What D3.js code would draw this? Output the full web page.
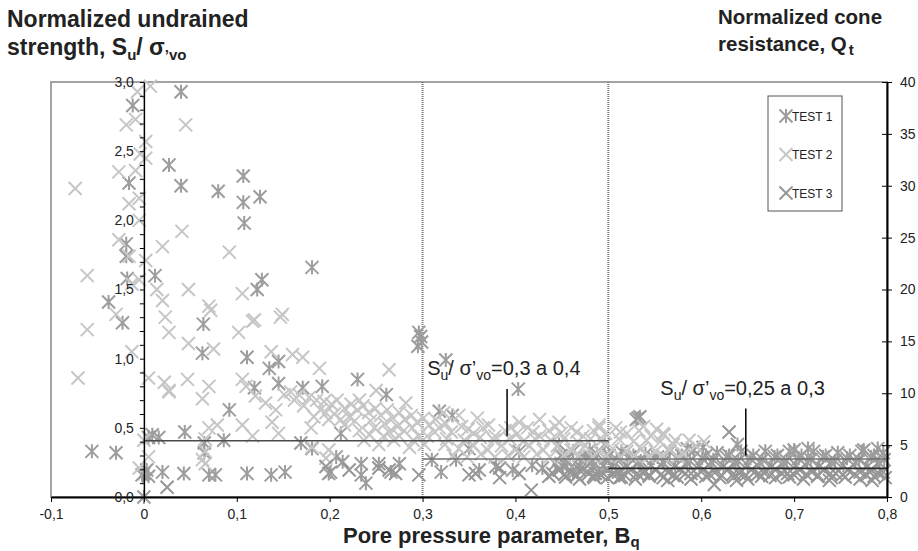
<!DOCTYPE html>
<html>
<head>
<meta charset="utf-8">
<script src="https://cdn.jsdelivr.net/npm/d3@7"></script>
<style>
    body { margin: 0; background: #fff; }
    svg text { font-family: Arial, "Liberation Sans", sans-serif; fill: #222; }
</style>
</head>
<body>
<svg id="chart" width="918" height="551"></svg>
<script>
// Tick labels for the three axes
const bqTicks = [-0.1, 0, 0.1, 0.2, 0.3, 0.4, 0.5, 0.6, 0.7, 0.8];
const suTicks = [0, 0.5, 1.0, 1.5, 2.0, 2.5, 3.0];
const qtTicks = [0, 5, 10, 15, 20, 25, 30, 35, 40];

const seriesNames = ["TEST 1", "TEST 2", "TEST 3"];

// [Bq, Su/σ'vo]
const test1 = [
    [0.040, 2.93], [-0.012, 2.83], [0.027, 2.40], [-0.016, 2.27], [0.040, 2.25], [0.080, 2.21],
    [0.107, 2.32], [0.107, 2.13], [0.125, 2.17], [0.108, 1.98], [-0.019, 1.83], [-0.019, 1.74],
    [0.012, 1.60], [-0.018, 1.58], [0.181, 1.66], [0.127, 1.57], [0.122, 1.50], [-0.038, 1.41],
    [-0.023, 1.26], [0.064, 1.25], [0.063, 1.04], [0.111, 1.01], [0.135, 0.93], [0.145, 0.98],
    [0.145, 0.82], [0.119, 0.79], [0.092, 0.63], [0.044, 0.47], [0.009, 0.45], [0.016, 0.43],
    [0.005, 0.43], [-0.030, 0.32], [-0.056, 0.33], [0.086, 0.41], [0.065, 0.39], [0.065, 0.32],
    [0, 0.17], [0.003, 0.195], [-0.002, 0.16], [0.005, 0.15], [0.020, 0.18], [0.043, 0.17],
    [0.070, 0.16], [0.077, 0.16], [0.111, 0.17], [0.137, 0.16], [0.152, 0.18], [0, 0.0],
    [0.171, 0.79], [0.192, 0.80], [0.181, 0.35], [0.169, 0.39], [0.199, 0.17], [0.212, 0.46],
    [0.230, 0.85], [0.261, 0.74], [0.207, 0.29], [0.214, 0.255], [0.234, 0.24], [0.253, 0.24],
    [0.275, 0.24], [0.201, 0.18], [0.234, 0.16], [0.239, 0.10], [0.266, 0.18],
    [0.296, 1.19], [0.298, 1.16], [0.299, 1.12], [0.295, 1.09], [0.325, 0.99], [0.403, 0.78],
    [0.318, 0.62], [0.332, 0.59],
    [0.310, 0.27], [0.320, 0.18], [0.336, 0.27], [0.361, 0.195], [0.379, 0.22], [0.397, 0.195],
    [0.418, 0.23], [0.429, 0.21], [0.451, 0.22], [0.462, 0.17], [0.483, 0.22], [0.490, 0.17],
    [0.504, 0.22], [0.350, 0.35], [0.404, 0.33], [0.447, 0.38], [0.480, 0.34], [0.496, 0.38],
    [0.532, 0.57], [0.534, 0.58], [0.530, 0.56], [0.639, 0.38],
    // dense band 0.45 - 0.8
    [0.449, 0.30], [0.462, 0.33], [0.475, 0.28], [0.488, 0.31], [0.501, 0.30], [0.514, 0.33],
    [0.527, 0.30], [0.540, 0.31], [0.553, 0.29], [0.566, 0.33], [0.579, 0.30], [0.592, 0.34],
    [0.605, 0.30], [0.617, 0.32], [0.630, 0.30], [0.643, 0.33], [0.656, 0.30], [0.669, 0.33],
    [0.682, 0.30], [0.695, 0.33], [0.708, 0.30], [0.721, 0.33], [0.734, 0.30], [0.747, 0.32],
    [0.760, 0.30], [0.773, 0.33], [0.786, 0.30], [0.796, 0.32],
    [0.455, 0.27], [0.470, 0.29], [0.483, 0.26], [0.497, 0.28], [0.509, 0.27], [0.523, 0.29],
    [0.535, 0.26], [0.549, 0.28], [0.561, 0.27], [0.575, 0.29], [0.588, 0.26], [0.601, 0.28],
    [0.613, 0.27], [0.627, 0.29], [0.640, 0.26], [0.653, 0.28], [0.666, 0.27], [0.679, 0.29],
    [0.692, 0.26], [0.705, 0.28], [0.718, 0.27], [0.731, 0.29], [0.744, 0.26], [0.757, 0.28],
    [0.770, 0.27], [0.783, 0.29], [0.797, 0.27],
    [0.443, 0.24], [0.456, 0.25], [0.469, 0.22], [0.482, 0.25], [0.495, 0.23], [0.508, 0.245],
    [0.520, 0.22], [0.533, 0.25], [0.546, 0.23], [0.559, 0.25], [0.572, 0.22], [0.585, 0.245],
    [0.598, 0.23], [0.611, 0.25], [0.624, 0.22], [0.637, 0.245], [0.650, 0.23], [0.663, 0.25],
    [0.676, 0.22], [0.689, 0.245], [0.702, 0.23], [0.714, 0.25], [0.727, 0.22], [0.740, 0.245],
    [0.753, 0.23], [0.766, 0.25], [0.779, 0.22], [0.792, 0.245],
    [0.585, 0.35], [0.602, 0.36], [0.700, 0.34], [0.715, 0.35], [0.775, 0.34], [0.790, 0.35]
];

const test2 = [
    [0.007, 2.97], [-0.007, 2.93], [0.045, 2.69], [-0.019, 2.69], [-0.009, 2.73], [0.002, 2.57],
    [-0.004, 2.48], [0.002, 2.45], [-0.027, 2.35], [-0.009, 2.36], [-0.074, 2.23], [-0.016, 2.12],
    [-0.005, 2.16], [-0.005, 2.00], [0.041, 1.92], [-0.027, 1.86], [0.020, 1.81], [-0.016, 1.74],
    [0.002, 1.71], [0.092, 1.77], [-0.061, 1.60], [-0.005, 1.57], [-0.013, 1.54], [0.014, 1.50],
    [0.048, 1.50], [0.106, 1.47], [0.020, 1.42], [0.070, 1.38], [0.072, 1.35], [0.149, 1.32],
    [0.119, 1.28], [0.023, 1.30], [-0.030, 1.32], [0.027, 1.19], [0.048, 1.11], [0.075, 1.07],
    [0.102, 1.19], [0.117, 1.27], [0.147, 1.30], [-0.013, 1.05], [-0.061, 1.21], [-0.071, 0.86],
    [0.005, 0.86], [0.022, 0.83], [0.027, 0.76], [0.047, 0.85], [0.070, 0.80], [0.063, 0.71],
    [0.106, 0.85], [0.110, 0.80], [0.120, 0.73], [0.131, 0.68], [0.142, 0.63], [0.151, 0.74],
    [0.160, 1.03], [0.137, 1.05], [0.070, 0.50], [0.079, 0.52], [0.106, 0.52], [0.117, 0.44],
    [0.138, 0.54], [0.145, 0.46], [0.066, 0.42], [0.066, 0.24], [0.171, 1.01], [0.189, 0.93],
    [0.264, 0.92], [0.158, 0.76], [0.162, 0.70], [0.250, 0.77], [0.232, 0.70], [0.282, 0.68],
    [0.180, 0.50], [0.181, 0.36], [0.196, 0.28], [0.199, 0.34], [0, 0.41], [0.005, 0.29],
    [-0.005, 0.21], [0.063, 0.27], [0.066, 0.33], [0.027, 0.77],
    // band 0.17 - 0.31
    [0.167, 0.74], [0.178, 0.72], [0.186, 0.70], [0.194, 0.69], [0.202, 0.67], [0.208, 0.70],
    [0.216, 0.64], [0.223, 0.67], [0.230, 0.63], [0.236, 0.66], [0.242, 0.61], [0.249, 0.64],
    [0.255, 0.59], [0.262, 0.63], [0.268, 0.57], [0.275, 0.61], [0.281, 0.56], [0.288, 0.59],
    [0.294, 0.54], [0.301, 0.57], [0.307, 0.52], [0.314, 0.56],
    [0.199, 0.56], [0.216, 0.52], [0.232, 0.48], [0.248, 0.50], [0.264, 0.47], [0.280, 0.48],
    [0.296, 0.44], [0.313, 0.47], [0.237, 0.41], [0.253, 0.38], [0.269, 0.41], [0.286, 0.36],
    [0.302, 0.38],
    [0.172, 0.66], [0.190, 0.63], [0.205, 0.60], [0.221, 0.58], [0.227, 0.55], [0.244, 0.55],
    [0.259, 0.53], [0.273, 0.51], [0.289, 0.50], [0.243, 0.45], [0.258, 0.44], [0.275, 0.44],
    [0.290, 0.41], [0.305, 0.44], [0.183, 0.58], [0.196, 0.61], [0.212, 0.56],
    // band 0.31 - 0.6
    [0.318, 0.50], [0.331, 0.47], [0.342, 0.51], [0.355, 0.46], [0.365, 0.50], [0.378, 0.44],
    [0.389, 0.48], [0.402, 0.46], [0.413, 0.50], [0.426, 0.44], [0.436, 0.48], [0.449, 0.46],
    [0.460, 0.50], [0.473, 0.44], [0.484, 0.48], [0.497, 0.46], [0.508, 0.50], [0.520, 0.46],
    [0.533, 0.48], [0.546, 0.44], [0.559, 0.46], [0.572, 0.41],
    [0.325, 0.53], [0.349, 0.49], [0.371, 0.52], [0.395, 0.50], [0.419, 0.47], [0.443, 0.51],
    [0.466, 0.47], [0.490, 0.50], [0.513, 0.47], [0.538, 0.51], [0.552, 0.49],
    [0.326, 0.42], [0.345, 0.41], [0.362, 0.43], [0.377, 0.41], [0.394, 0.42], [0.408, 0.40],
    [0.421, 0.42], [0.438, 0.41], [0.452, 0.42], [0.467, 0.40], [0.481, 0.42], [0.493, 0.41],
    [0.511, 0.42], [0.527, 0.40], [0.541, 0.41], [0.556, 0.40], [0.570, 0.38], [0.594, 0.37],
    [0.324, 0.38], [0.339, 0.35], [0.355, 0.37], [0.370, 0.34], [0.385, 0.37], [0.400, 0.34],
    [0.415, 0.37], [0.430, 0.34], [0.445, 0.37], [0.460, 0.34], [0.475, 0.37], [0.490, 0.33],
    [0.505, 0.35], [0.520, 0.33], [0.536, 0.35], [0.551, 0.33], [0.566, 0.34], [0.581, 0.31],
    [0.333, 0.30], [0.348, 0.29], [0.363, 0.31], [0.378, 0.29], [0.392, 0.30], [0.409, 0.29],
    [0.423, 0.31], [0.437, 0.29], [0.452, 0.30], [0.468, 0.30], [0.483, 0.29], [0.498, 0.30],
    [0.513, 0.29], [0.528, 0.30], [0.543, 0.29], [0.558, 0.30], [0.575, 0.29],
    [0.323, 0.61], [0.339, 0.59], [0.359, 0.57], [0.404, 0.54], [0.447, 0.54], [0.490, 0.52],
    [0.426, 0.56], [0.587, 0.41], [0.603, 0.40], [0.560, 0.45]
];

const test3 = [
    [0.025, 0.07], [0.417, 0.05], [0.614, 0.09], [0.564, 0.12], [0.512, 0.14], [0.485, 0.14],
    [0.638, 0.12], [0.738, 0.12], [0.784, 0.12], [0.630, 0.47],
    [0.196, 0.22], [0.221, 0.195], [0.264, 0.195], [0.271, 0.17], [0.296, 0.16], [0.350, 0.16],
    [0.383, 0.14], [0.436, 0.15], [0.253, 0.21], [0.357, 0.17], [0.383, 0.21], [0.404, 0.17],
    [0.440, 0.17], [0.469, 0.195],
    // dense band 0.45 - 0.8
    [0.447, 0.195], [0.460, 0.18], [0.473, 0.20], [0.486, 0.17], [0.499, 0.195], [0.511, 0.18],
    [0.524, 0.20], [0.538, 0.17], [0.551, 0.195], [0.564, 0.18], [0.577, 0.20], [0.589, 0.17],
    [0.602, 0.195], [0.615, 0.18], [0.628, 0.20], [0.641, 0.17], [0.654, 0.195], [0.667, 0.18],
    [0.680, 0.20], [0.693, 0.17], [0.706, 0.195], [0.719, 0.18], [0.732, 0.20], [0.745, 0.17],
    [0.758, 0.195], [0.771, 0.18], [0.783, 0.20], [0.796, 0.18],
    [0.453, 0.165], [0.466, 0.155], [0.479, 0.17], [0.492, 0.16], [0.505, 0.165], [0.518, 0.155],
    [0.531, 0.17], [0.544, 0.16], [0.557, 0.165], [0.570, 0.155], [0.583, 0.17], [0.596, 0.16],
    [0.609, 0.165], [0.622, 0.155], [0.635, 0.17], [0.648, 0.16], [0.661, 0.165], [0.674, 0.155],
    [0.687, 0.17], [0.700, 0.16], [0.713, 0.165], [0.726, 0.155], [0.739, 0.17], [0.752, 0.16],
    [0.765, 0.165], [0.778, 0.155], [0.791, 0.17],
    [0.454, 0.145], [0.469, 0.13], [0.484, 0.15], [0.499, 0.14], [0.514, 0.145], [0.529, 0.13],
    [0.544, 0.15], [0.559, 0.14], [0.574, 0.145], [0.589, 0.13], [0.605, 0.15], [0.620, 0.14],
    [0.635, 0.145], [0.650, 0.13], [0.665, 0.15], [0.680, 0.14], [0.695, 0.145], [0.710, 0.13],
    [0.725, 0.15], [0.740, 0.14], [0.755, 0.145], [0.771, 0.13], [0.786, 0.15], [0.798, 0.14]
];

// horizontal trend segments: [Bq from, Bq to, Su]
const trendLines = [[0, 0.5, 0.407], [0.3, 0.8, 0.275], [0.5, 0.8, 0.207]];
// zone limits on Bq
const zoneLimits = [0.3, 0.5];
// labels: Bq, Su of text start, value text, pointer [Bq, Su from, Su to]
const labels = [
    { bq: 0.305, su: 0.88, value: "=0,3 a 0,4", pointer: [0.391, 0.44, 0.78] },
    { bq: 0.556, su: 0.74, value: "=0,25 a 0,3", pointer: [0.648, 0.30, 0.64] }
];

const svg = d3.select("#chart");
const margin = { top: 82, right: 31, bottom: 54, left: 51 };
const width = 918 - margin.left - margin.right;
const height = 551 - margin.top - margin.bottom;

const g = svg.append("g").attr("transform", `translate(${margin.left},${margin.top})`);

const x = d3.scaleLinear().domain([-0.1, 0.8]).range([0, width]);
const y = d3.scaleLinear().domain([0, 3]).range([height, 0]);
const yQ = d3.scaleLinear().domain([0, 40]).range([height, 0]);

const comma = d => d.toFixed(1).replace(".", ",");

// gray frame of the plot area
g.append("rect")
    .attr("width", width).attr("height", height)
    .attr("fill", "none").attr("stroke", "#a3a3a3").attr("stroke-width", 2);

// zone limits (dotted)
g.selectAll(".zone")
    .data(zoneLimits)
    .enter().append("line")
    .attr("x1", d => x(d)).attr("x2", d => x(d))
    .attr("y1", 0).attr("y2", height)
    .attr("stroke", "#777").attr("stroke-width", 2)
    .attr("stroke-dasharray", "1,1");

// markers
const xMark = "M-6.5,-6.5L6.5,6.5M-6.5,6.5L6.5,-6.5";
const starMark = xMark + "M0,-7L0,7";
const series = [
    { data: test1, color: "#9d9d9d", shape: starMark },
    { data: test2, color: "#c6c6c6", shape: xMark },
    { data: test3, color: "#969696", shape: xMark }
];

series.forEach(s => {
    g.append("g").selectAll("path")
        .data(s.data)
        .enter().append("path")
        .attr("d", s.shape)
        .attr("transform", d => `translate(${x(d[0])},${y(d[1])})`)
        .attr("fill", "none")
        .attr("stroke", s.color)
        .attr("stroke-width", 2);
});

// trend segments
const trendColors = ["#4a4a4a", "#707070", "#2e2e2e"];
g.selectAll(".trend")
    .data(trendLines)
    .enter().append("line")
    .attr("x1", d => x(d[0])).attr("x2", d => x(d[1]))
    .attr("y1", d => y(d[2])).attr("y2", d => y(d[2]))
    .attr("stroke", (d, i) => trendColors[i])
    .attr("stroke-width", 1.6);

// X axis
const xAxis = g.append("g")
    .attr("transform", `translate(0,${height})`)
    .call(d3.axisBottom(x).tickValues(bqTicks).tickSize(5).tickSizeOuter(0).tickPadding(7)
        .tickFormat(d => d === 0 ? "0" : comma(d)));
xAxis.select(".domain").attr("stroke", "#000").attr("stroke-width", 2);
xAxis.selectAll("text").style("font-size", "14px").attr("fill", "#222");

// left axis sits at Bq = 0
const leftAxis = g.append("g")
    .attr("transform", `translate(${x(0)},0)`)
    .call(d3.axisLeft(y).ticks(30).tickSize(4).tickSizeOuter(0).tickPadding(6)
        .tickFormat(d => suTicks.some(t => Math.abs(t - d) < 1e-6) ? comma(d) : ""));
leftAxis.select(".domain").attr("stroke", "#000").attr("stroke-width", 1.5);
leftAxis.selectAll("text").style("font-size", "14px").attr("fill", "#222");

// right axis (cone resistance)
const rightAxis = g.append("g")
    .attr("transform", `translate(${width},0)`)
    .call(d3.axisRight(yQ).tickValues(qtTicks).tickSize(5).tickSizeOuter(0).tickPadding(8));
rightAxis.select(".domain").attr("stroke", "#000").attr("stroke-width", 2);
rightAxis.selectAll(".tick line").attr("x1", -5);
rightAxis.selectAll("text").style("font-size", "14px").attr("fill", "#222");

// annotation labels
labels.forEach(l => {
    g.append("line")
        .attr("x1", x(l.pointer[0])).attr("x2", x(l.pointer[0]))
        .attr("y1", y(l.pointer[1])).attr("y2", y(l.pointer[2]))
        .attr("stroke", "#000").attr("stroke-width", 1.5);
    const t = g.append("text")
        .attr("x", x(l.bq)).attr("y", y(l.su))
        .style("font-size", "20px");
    t.append("tspan").text("S");
    t.append("tspan").text("u").attr("dy", 5).style("font-size", "14px");
    t.append("tspan").text("/ σ’").attr("dy", -5);
    t.append("tspan").text("vo").attr("dy", 5).style("font-size", "14px");
    t.append("tspan").text(l.value).attr("dy", -5);
});

// legend
const legend = svg.append("g").attr("transform", "translate(768,96)");
legend.append("rect")
    .attr("width", 74).attr("height", 115)
    .attr("fill", "#fff").attr("stroke", "#555").attr("stroke-width", 1);
series.forEach((s, i) => {
    const row = legend.append("g").attr("transform", `translate(18,${20 + i * 38.5})`);
    row.append("path").attr("d", s.shape)
        .attr("fill", "none").attr("stroke", s.color).attr("stroke-width", 2);
    row.append("text").attr("x", 6).attr("y", 4.5)
        .style("font-size", "12px").text(seriesNames[i]);
});

// titles
const leftTitle = svg.append("g").style("font-weight", "bold").style("font-size", "23px");
leftTitle.append("text").attr("x", 7).attr("y", 27).text("Normalized undrained");
const lt2 = leftTitle.append("text").attr("x", 7).attr("y", 55);
lt2.append("tspan").text("strength, S");
lt2.append("tspan").text("u").attr("dy", 5).style("font-size", "15px");
lt2.append("tspan").text("/ σ").attr("dy", -5);
lt2.append("tspan").text("’vo").attr("dy", 5).style("font-size", "15px");

const rightTitle = svg.append("g").style("font-weight", "bold").style("font-size", "20.5px");
rightTitle.append("text").attr("x", 718).attr("y", 24).text("Normalized cone");
const rt2 = rightTitle.append("text").attr("x", 718).attr("y", 51);
rt2.append("tspan").text("resistance, Q");
rt2.append("tspan").text("t").attr("dx", 2).attr("dy", 4).style("font-size", "15px");

const xTitle = svg.append("text").attr("x", 343).attr("y", 543)
    .style("font-weight", "bold").style("font-size", "22px");
xTitle.append("tspan").text("Pore pressure parameter, B");
xTitle.append("tspan").text("q").attr("dy", 4).style("font-size", "15px");
</script>
</body>
</html>
